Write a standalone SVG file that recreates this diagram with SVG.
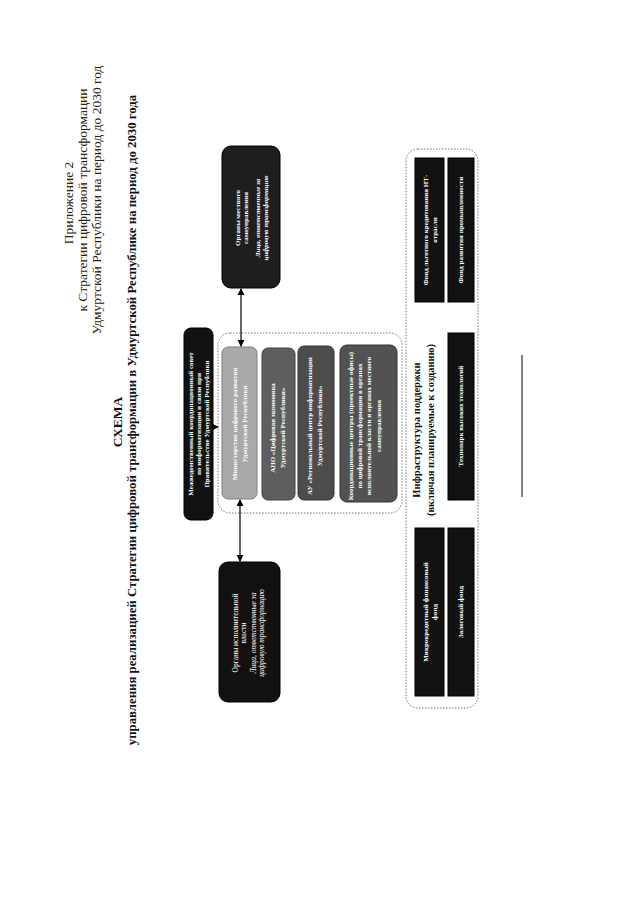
<svg xmlns="http://www.w3.org/2000/svg" width="640" height="905" viewBox="0 0 640 905">
<style>
  .hdr{font-family:"Liberation Serif","DejaVu Serif",serif;font-size:13.5px;fill:#222;text-anchor:middle}
  .ttl{font-family:"Liberation Serif","DejaVu Serif",serif;font-size:12.8px;font-weight:bold;fill:#111;text-anchor:middle}
  .bx{font-family:"Liberation Serif","DejaVu Serif",serif;font-size:7px;font-weight:bold;fill:#fff;text-anchor:middle}
  .bxn{font-family:"Liberation Serif","DejaVu Serif",serif;font-size:7.5px;fill:#fff;text-anchor:middle}
  .it{font-style:italic}
  .inf{font-family:"Liberation Serif","DejaVu Serif",serif;font-size:10.5px;font-weight:bold;fill:#111;text-anchor:middle}
  .dark{fill:#111;stroke:#000;stroke-width:1}
  .cont{fill:none;stroke:#777;stroke-width:1;stroke-dasharray:1.5 1.5}
  .conn{stroke:#000;stroke-width:1.2;fill:none}
</style>
<defs>
  <marker id="ah" viewBox="0 0 8 8" refX="7" refY="4" markerWidth="6" markerHeight="6" orient="auto-start-reverse">
    <path d="M0,0 L8,4 L0,8 z" fill="#000"/>
  </marker>
</defs>

<g id="header">
  <text class="hdr" transform="translate(73,203) rotate(-90)">Приложение 2</text>
  <text class="hdr" transform="translate(87,200) rotate(-90)">к Стратегии цифровой трансформации</text>
  <text class="hdr" transform="translate(101,200) rotate(-90)">Удмуртской Республики на период до 2030 год</text>
</g>

<g id="title">
  <text class="ttl" transform="translate(122,422) rotate(-90)" style="font-size:13.5px">СХЕМА</text>
  <text class="ttl" transform="translate(136,420) rotate(-90)">управления реализацией Стратегии цифровой трансформации в Удмуртской Республике на период до 2030 года</text>
</g>

<g id="council">
  <rect class="dark" x="184" y="328" width="29" height="192" rx="7"/>
  <text class="bx" transform="translate(193,424) rotate(-90)">Межведомственный координационный совет</text>
  <text class="bx" transform="translate(201,424) rotate(-90)">по информатизации и связи при</text>
  <text class="bx" transform="translate(209,424) rotate(-90)">Правительстве Удмуртской Республики</text>
</g>

<g id="core-container">
  <rect class="cont" x="218" y="333" width="184" height="180" rx="12"/>
</g>

<g id="ministry">
  <rect x="222" y="347" width="35" height="152" rx="6" fill="#a9a9a9" stroke="#808080"/>
  <text class="bx" transform="translate(237,424) rotate(-90)">Министерство цифрового развития</text>
  <text class="bx" transform="translate(247,424) rotate(-90)">Удмуртской Республики</text>
</g>

<g id="ano">
  <rect x="262" y="348" width="33" height="152" rx="6" fill="#5e5e5e" stroke="#444"/>
  <text class="bx" transform="translate(275,428) rotate(-90)">АНО «Цифровая экономика</text>
  <text class="bx" transform="translate(285,428) rotate(-90)">Удмуртской Республики»</text>
</g>

<g id="au">
  <rect x="298" y="346" width="36" height="154" rx="6" fill="#4c4c4c" stroke="#333"/>
  <text class="bx" transform="translate(312,426) rotate(-90)">АУ «Региональный центр информатизации</text>
  <text class="bx" transform="translate(322,426) rotate(-90)">Удмуртской Республики»</text>
</g>

<g id="offices">
  <rect x="340" y="345" width="57" height="157" rx="7" fill="#525252" stroke="#333"/>
  <text class="bx" transform="translate(353,426) rotate(-90)">Координационные центры (проектные офисы)</text>
  <text class="bx" transform="translate(362,426) rotate(-90)">по цифровой трансформации в органах</text>
  <text class="bx" transform="translate(371,426) rotate(-90)">исполнительной власти и органах местного</text>
  <text class="bx" transform="translate(381,426) rotate(-90)">самоуправления</text>
</g>

<g id="local-gov">
  <rect x="222" y="146" width="58" height="142" rx="9" fill="#1e1e1e" stroke="#000"/>
  <text class="bx" transform="translate(240,218) rotate(-90)">Органы местного</text>
  <text class="bx" transform="translate(248,218) rotate(-90)">самоуправления</text>
  <text class="bx it" transform="translate(260,218) rotate(-90)">Лица, ответственные за</text>
  <text class="bx it" transform="translate(268,218) rotate(-90)">цифровую трансформацию</text>
</g>

<g id="exec-gov">
  <rect x="219" y="562" width="61" height="140" rx="9" fill="#111" stroke="#000"/>
  <text class="bxn" transform="translate(238,633) rotate(-90)">Органы исполнительной</text>
  <text class="bxn" transform="translate(246,633) rotate(-90)">власти</text>
  <text class="bxn it" transform="translate(256,633) rotate(-90)">Лица, ответственные за</text>
  <text class="bxn it" transform="translate(264,633) rotate(-90)">цифровую трансформацию</text>
</g>

<g id="connectors">
  <line class="conn" x1="213" y1="427" x2="218" y2="427" marker-end="url(#ah)"/>
  <line class="conn" x1="241" y1="289" x2="241" y2="346" marker-start="url(#ah)" marker-end="url(#ah)"/>
  <line class="conn" x1="240" y1="500" x2="240" y2="561" marker-start="url(#ah)" marker-end="url(#ah)"/>
</g>

<g id="infrastructure">
  <rect class="cont" x="406" y="149" width="72" height="559" rx="12"/>
  <text class="inf" transform="translate(420,430) rotate(-90)">Инфраструктура поддержки</text>
  <text class="inf" transform="translate(434,430) rotate(-90)">(включая планируемые к созданию)</text>
</g>

<g id="fund-it">
  <rect class="dark" x="415" y="158" width="29" height="144"/>
  <text class="bx" transform="translate(428,230) rotate(-90)">Фонд льготного кредитования ИТ-</text>
  <text class="bx" transform="translate(437,230) rotate(-90)">отрасли</text>
</g>
<g id="fund-industry">
  <rect class="dark" x="448" y="158" width="26" height="144"/>
  <text class="bx" transform="translate(463,230) rotate(-90)">Фонд развития промышленности</text>
</g>
<g id="technopark">
  <rect class="dark" x="448" y="333" width="26" height="167"/>
  <text class="bx" transform="translate(463,416) rotate(-90)">Технопарк высоких технологий</text>
</g>
<g id="microcredit">
  <rect class="dark" x="415" y="528" width="29" height="168"/>
  <text class="bx" transform="translate(428,612) rotate(-90)">Микрокредитный финансовый</text>
  <text class="bx" transform="translate(437,612) rotate(-90)">фонд</text>
</g>
<g id="pledge">
  <rect class="dark" x="448" y="528" width="26" height="168"/>
  <text class="bx" transform="translate(463,612) rotate(-90)">Залоговый фонд</text>
</g>

<line x1="522" y1="355" x2="522" y2="497" stroke="#000" stroke-width="1"/>
</svg>
